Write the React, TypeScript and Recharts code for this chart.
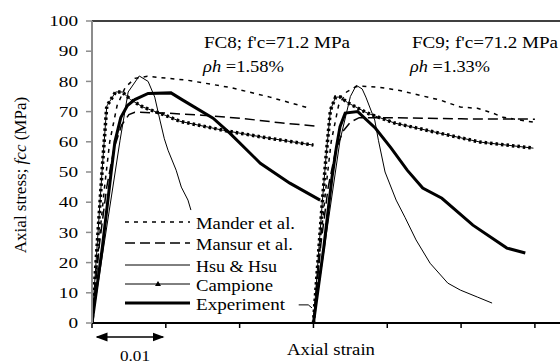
import React from "react";
import { LineChart, Line, XAxis, YAxis, ReferenceLine } from "recharts";

// strain (-) vs axial stress (MPa); FC9 curves are shifted by 0.03 along the strain axis
const manderFC8 = [[0, 0], [0.001, 28], [0.0017, 45], [0.0024, 60], [0.0034, 72], [0.0045, 78], [0.0058, 81], [0.0075, 81.7], [0.0129, 80.4], [0.0187, 78], [0.0241, 74.8], [0.0295, 71.1]];
const mansurFC8 = [[0, 0], [0.001, 26], [0.002, 45], [0.003, 58], [0.004, 65.5], [0.005, 69], [0.0058, 69.8], [0.01, 69.5], [0.0149, 68.8], [0.0201, 67.8], [0.0255, 66.3], [0.0302, 65.2]];
const hsuFC8 = [[0, 0], [0.0038, 60.5], [0.0049, 76.5], [0.0064, 81.8], [0.0076, 80], [0.0085, 74.8], [0.0092, 67.2], [0.0098, 61], [0.0103, 57.2], [0.0114, 50.6], [0.0121, 45], [0.013, 40.7], [0.0134, 37.4]];
const campioneFC8 = [[0, 0], [0.0014, 51.6], [0.002, 71.8], [0.0032, 76.5], [0.0041, 76.5], [0.0052, 74], [0.0069, 71.5], [0.0099, 68.8], [0.0119, 66.8], [0.0178, 63.8], [0.0232, 61.5], [0.03, 58.9]];
const expFC8 = [[0, 0], [0.0014, 25], [0.0026, 50], [0.0031, 60], [0.0039, 68], [0.0048, 72], [0.0058, 74], [0.0076, 76], [0.0107, 76.2], [0.0123, 73.8], [0.0164, 67.8], [0.0187, 62.8], [0.0228, 52.9], [0.0268, 46.3], [0.0309, 40.7]];
const tailFC8 = [[0.028, 6], [0.0293, 6], [0.0298, 5]];

const manderFC9 = [[0.03, 0], [0.031, 28], [0.0317, 45], [0.0324, 60], [0.0334, 72], [0.0345, 76.5], [0.0357, 78.2], [0.0367, 78.4], [0.039, 78], [0.0417, 77], [0.0444, 75.4], [0.0472, 73.8], [0.0499, 71.5], [0.0522, 71.1], [0.0543, 69.5], [0.0557, 68.1], [0.0598, 66.5]];
const mansurFC9 = [[0.03, 0], [0.031, 26], [0.032, 45], [0.033, 57], [0.034, 63.5], [0.035, 66.5], [0.0362, 68], [0.04, 68], [0.045, 67.8], [0.05, 67.6], [0.06, 67.5]];
const hsuFC9 = [[0.03, 0], [0.0336, 60.5], [0.035, 75], [0.0358, 78.7], [0.0366, 77.5], [0.0371, 74.8], [0.0383, 67.2], [0.0388, 60.5], [0.0397, 50], [0.0412, 40.7], [0.0424, 35], [0.0439, 27.5], [0.0458, 19.8], [0.0482, 13.2], [0.0499, 10.9], [0.0522, 8.6], [0.0542, 6.6]];
const campioneFC9 = [[0.03, 0], [0.0312, 40], [0.0317, 55], [0.0323, 70.5], [0.033, 74.8], [0.0337, 74.8], [0.0346, 73], [0.0373, 69.5], [0.041, 66.2], [0.0472, 62.8], [0.0526, 59.9], [0.0598, 57.9]];
const expFC9 = [[0.03, 0], [0.0314, 25], [0.0325, 48], [0.0331, 58], [0.0336, 65], [0.0343, 69.5], [0.036, 70], [0.0384, 64.5], [0.0405, 58], [0.0427, 50.6], [0.0448, 44.7], [0.0474, 41.3], [0.0516, 32.4], [0.0562, 24.8], [0.0587, 23.2]];

const X_MAX = 0.0634;
const X_TICKS = [0, 0.01, 0.02, 0.03, 0.04, 0.05, 0.06];
const Y_TICKS = [0, 10, 20, 30, 40, 50, 60, 70, 80, 90, 100];

const FONT = '"Liberation Serif", "Times New Roman", serif';

const pts = (a: number[][]) => a.map(([x, y]) => ({ x, y }));

const styles = {
  mander: { stroke: "#000", strokeWidth: 1.5, strokeDasharray: "4 5" },
  mansur: { stroke: "#000", strokeWidth: 1.5, strokeDasharray: "10 5" },
  hsu: { stroke: "#000", strokeWidth: 1 },
  campione: { stroke: "#000", strokeWidth: 1 },
  exp: { stroke: "#000", strokeWidth: 3 },
};

const series = [
  { id: "manderFC8", data: manderFC8, s: styles.mander },
  { id: "mansurFC8", data: mansurFC8, s: styles.mansur },
  { id: "hsuFC8", data: hsuFC8, s: styles.hsu },
  { id: "campioneFC8", data: campioneFC8, s: styles.campione },
  { id: "expFC8", data: expFC8, s: styles.exp },
  { id: "tailFC8", data: tailFC8, s: styles.hsu },
  { id: "manderFC9", data: manderFC9, s: styles.mander },
  { id: "mansurFC9", data: mansurFC9, s: styles.mansur },
  { id: "hsuFC9", data: hsuFC9, s: styles.hsu },
  { id: "campioneFC9", data: campioneFC9, s: styles.campione },
  { id: "expFC9", data: expFC9, s: styles.exp },
];

function YTick(props: any) {
  const { x, y, payload } = props;
  const label = String(payload.value);
  return (
    <text x={x} y={y} dy="0.36em" textAnchor="end" fontSize={14.5} fill="#000"
      style={{ fontFamily: FONT }} textLength={label.length * 9.6} lengthAdjust="spacingAndGlyphs">
      {label}
    </text>
  );
}

const legendRows = [
  { name: "Mander et al.", s: styles.mander, y: 222, w: 99 },
  { name: "Mansur et al.", s: styles.mansur, y: 243, w: 97 },
  { name: "Hsu & Hsu", s: styles.hsu, y: 265, w: 81 },
  { name: "Campione", s: styles.campione, y: 284, w: 77, marker: true },
  { name: "Experiment", s: styles.exp, y: 303, w: 89 },
];

export default function App() {
  return (
    <div style={{ position: "absolute", left: 0, top: 0, width: 560, height: 363, background: "#fff", overflow: "hidden" }}>
      <LineChart width={560} height={363} margin={{ top: 21, right: 0, bottom: 0, left: 0 }}>
        <XAxis type="number" dataKey="x" domain={[0, X_MAX]} ticks={X_TICKS} allowDataOverflow
          height={40} tickFormatter={() => ""} tickSize={5}
          axisLine={{ stroke: "#000", strokeWidth: 2 }} tickLine={{ stroke: "#000", strokeWidth: 1.5 }} />
        <YAxis type="number" domain={[0, 100]} ticks={Y_TICKS} width={92} tickSize={6} tickMargin={8}
          tick={<YTick />} axisLine={{ stroke: "#8c8c8c", strokeWidth: 2 }} tickLine={{ stroke: "#8c8c8c", strokeWidth: 1.5 }} />
        <ReferenceLine y={100} stroke="#000" strokeWidth={1.5} />
        {series.map((sr) => (
          <Line key={sr.id} data={pts(sr.data)} dataKey="y" type="linear" dot={false} activeDot={false}
            isAnimationActive={false} {...sr.s} />
        ))}
        {/* triangle beads along the Campione curves */}
        {[campioneFC8, campioneFC9].map((d, i) => (
          <Line key={"bead" + i} data={pts(d)} dataKey="y" type="linear" dot={false} activeDot={false}
            isAnimationActive={false} stroke="#000" strokeWidth={3.5} strokeDasharray="2.5 3" />
        ))}
      </LineChart>
      <svg width={560} height={363} style={{ position: "absolute", left: 0, top: 0, pointerEvents: "none", fontFamily: FONT }}>
        <defs>
          <marker id="ah" markerWidth="8" markerHeight="8" refX="7" refY="4" orient="auto-start-reverse">
            <path d="M0,1 L8,4 L0,7 Z" fill="#000" />
          </marker>
        </defs>
        <text transform="translate(26,175) rotate(-90)" textAnchor="middle" fontSize={17} fill="#000">
          Axial stress; <tspan fontStyle="italic">fcc</tspan>  (MPa)
        </text>
        <text x={287} y={355} fontSize={17} textLength={88} lengthAdjust="spacingAndGlyphs">Axial strain</text>
        <line x1={97} y1={337} x2={163} y2={337} stroke="#000" strokeWidth={1.5}
          markerStart="url(#ah)" markerEnd="url(#ah)" />
        <text x={120} y={361} fontSize={15} textLength={30} lengthAdjust="spacingAndGlyphs">0.01</text>

        <text x={204} y={48} fontSize={17} textLength={146} lengthAdjust="spacingAndGlyphs">FC8; f'c=71.2 MPa</text>
        <text x={203} y={72} fontSize={17} textLength={81} lengthAdjust="spacingAndGlyphs">
          <tspan fontStyle="italic">ρh</tspan> =1.58%
        </text>
        <text x={412} y={48} fontSize={17} textLength={146} lengthAdjust="spacingAndGlyphs">FC9; f'c=71.2 MPa</text>
        <text x={410} y={72} fontSize={17} textLength={80} lengthAdjust="spacingAndGlyphs">
          <tspan fontStyle="italic">ρh</tspan> =1.33%
        </text>

        {legendRows.map((r) => (
          <g key={r.name}>
            <line x1={125} x2={190} y1={r.y} y2={r.y} {...r.s} />
            {r.marker && <path d={`M158,${r.y - 3} L161,${r.y + 2} L155,${r.y + 2} Z`} fill="#000" />}
            <text x={196} y={r.y + 7} fontSize={17} textLength={r.w} lengthAdjust="spacingAndGlyphs">{r.name}</text>
          </g>
        ))}
      </svg>
    </div>
  );
}
